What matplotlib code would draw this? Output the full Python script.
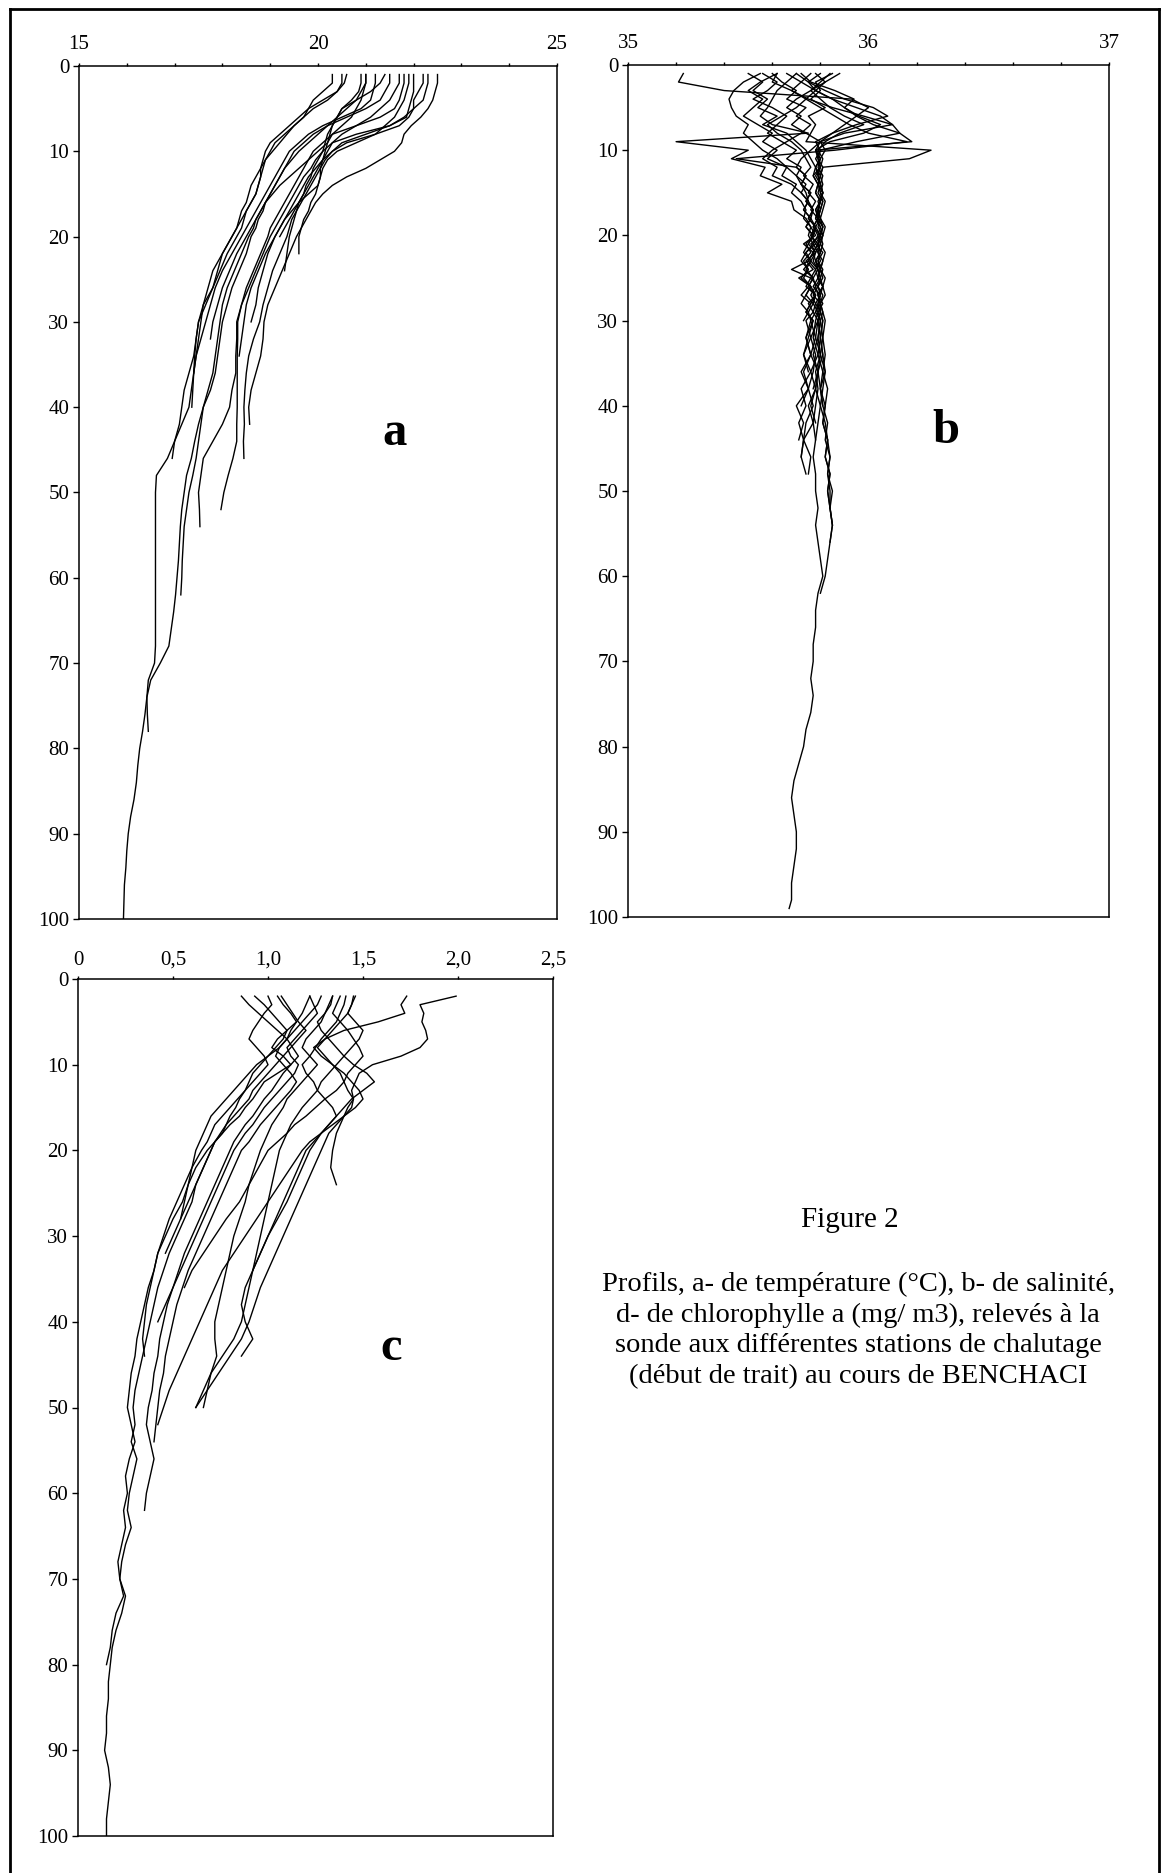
import matplotlib
matplotlib.use("Agg")
import matplotlib.pyplot as plt
from matplotlib.lines import Line2D

# ── depth grids (m) ───────────────────────────────────────────────────────────
depth_a = [1, 2, 3, 4, 5, 6, 7, 8, 9, 10,
           11, 12, 13, 14, 15, 16, 17, 18, 19, 20,
           22, 24, 26, 28, 30, 32, 34, 36, 38, 40,
           42, 44, 46, 48, 50, 52, 54, 56, 58, 60,
           62, 64, 66, 68, 70, 72, 74, 76, 78, 80,
           82, 84, 86, 88, 90, 92, 94, 96, 98, 100]

depth_b = [1, 2, 3, 4, 5, 6, 7, 8, 9, 10,
           11, 12, 13, 14, 15, 16, 17, 18, 19, 20,
           21, 22, 23, 24, 25, 26, 27, 28, 29, 30,
           32, 34, 36, 38, 40, 42, 44, 46, 48, 50,
           52, 54, 56, 58, 60, 62, 64, 66, 68, 70,
           72, 74, 76, 78, 80, 82, 84, 86, 88, 90,
           92, 94, 96, 98, 99]

depth_c = [2, 3, 4, 5, 6, 7, 8, 9, 10, 11,
           12, 13, 14, 15, 16, 17, 18, 19, 20,
           22, 24, 26, 28, 30, 32, 34, 36, 38, 40,
           42, 44, 46, 48, 50, 52, 54, 56, 58, 60,
           62, 64, 66, 68, 70, 72, 74, 76, 78, 80,
           82, 84, 86, 88, 90, 92, 94, 96, 98, 100]

# ── a- temperature (°C), one list per station, read down depth_a ─────────────
a01 = [21.0, 21.0, 20.9, 20.8, 20.6, 20.4, 20.2, 20.0, 19.8, 19.6,
       19.45, 19.3, 19.2, 19.1, 19.0, 18.9, 18.85, 18.75, 18.7, 18.6,
       18.5, 18.35, 18.2, 18.1, 18.0, 17.95, 17.9, 17.85, 17.75, 17.6,
       17.5, 17.42, 17.35, 17.25, 17.2, 17.15, 17.12, 17.1, 17.08, 17.05,
       17.02, 16.98, 16.93, 16.88, 16.7, 16.5, 16.42, 16.38, 16.33, 16.27,
       16.23, 16.2, 16.15, 16.08, 16.03, 16.0, 15.98, 15.95, 15.94, 15.93]
a02 = [20.6, 20.55, 20.4, 20.2, 19.9, 19.7, 19.5, 19.35, 19.2, 19.05,
       18.9, 18.85, 18.8, 18.75, 18.7, 18.6, 18.5, 18.45, 18.4, 18.3,
       18.1, 17.95, 17.8, 17.6, 17.55, 17.5, 17.45, 17.4, 17.35, 17.3,
       17.15, 17.0, 16.85, 16.62, 16.6, 16.6, 16.6, 16.6, 16.6, 16.6,
       16.6, 16.6, 16.6, 16.6, 16.58, 16.45, 16.42, 16.43, 16.45]
a03 = [21.5, 21.5, 21.4, 21.3, 21.0, 20.6, 20.2, 19.9, 19.7, 19.5,
       19.4, 19.3, 19.2, 19.1, 19.0, 18.9, 18.8, 18.7, 18.65, 18.55,
       18.4, 18.25, 18.1, 18.0, 17.95, 17.9, 17.85, 17.8, 17.7, 17.6,
       17.55, 17.5, 17.45, 17.38, 17.3, 17.25, 17.2, 17.18, 17.16, 17.15, 17.13]
a04 = [21.8, 21.8, 21.75, 21.7, 21.6, 21.3, 20.8, 20.3, 20.1, 19.9,
       19.8, 19.7, 19.6, 19.5, 19.4, 19.3, 19.2, 19.1, 19.0, 18.95,
       18.8, 18.65, 18.5, 18.4, 18.3, 18.3, 18.28, 18.28, 18.2, 18.15,
       18.0, 17.8, 17.6, 17.55, 17.5, 17.52, 17.53]
a05 = [22.0, 22.0, 22.0, 21.95, 21.9, 21.85, 21.5, 20.8, 20.3, 20.1,
       19.95, 19.85, 19.7, 19.6, 19.5, 19.4, 19.3, 19.2, 19.1, 19.0,
       18.85, 18.7, 18.55, 18.4, 18.32, 18.32, 18.31, 18.31, 18.31, 18.31,
       18.3, 18.3, 18.22, 18.12, 18.03, 17.97]
a06 = [22.3, 22.3, 22.25, 22.2, 22.0, 21.8, 21.5, 21.0, 20.5, 20.3,
       20.15, 20.05, 19.95, 19.85, 19.75, 19.65, 19.55, 19.45, 19.4, 19.35,
       19.2, 19.05, 18.95, 18.85, 18.78, 18.65, 18.55, 18.5, 18.47, 18.45,
       18.46, 18.44, 18.45]
a07 = [22.5, 22.5, 22.45, 22.4, 22.3, 22.15, 21.95, 21.8, 21.75, 21.6,
       21.3, 21.0, 20.6, 20.3, 20.1, 19.95, 19.85, 19.75, 19.65, 19.55,
       19.4, 19.25, 19.1, 18.95, 18.87, 18.85, 18.8, 18.7, 18.6, 18.55,
       18.57]
a08 = [20.5, 20.5, 20.4, 20.1, 19.8, 19.6, 19.4, 19.2, 19.0, 18.9,
       18.85, 18.8, 18.7, 18.6, 18.55, 18.5, 18.4, 18.35, 18.3, 18.2,
       18.0, 17.9, 17.8, 17.65, 17.5, 17.45, 17.42, 17.4, 17.38, 17.36]
a09 = [21.2, 21.2, 21.15, 21.1, 20.9, 20.5, 20.1, 19.8, 19.6, 19.4,
       19.3, 19.2, 19.1, 19.0, 18.9, 18.8, 18.7, 18.6, 18.5, 18.4,
       18.2, 18.0, 17.85, 17.75, 17.65, 17.55, 17.45, 17.4]
a10 = [20.3, 20.3, 20.1, 19.9, 19.8, 19.7, 19.5, 19.3, 19.1, 19.0,
       18.9, 18.8, 18.8, 18.75, 18.7, 18.6, 18.5, 18.4, 18.3, 18.2,
       18.0, 17.8, 17.7, 17.6, 17.5, 17.45, 17.4, 17.3, 17.2, 17.15,
       17.1, 17.0, 16.95]
a11 = [21.9, 21.9, 21.85, 21.8, 21.7, 21.6, 21.4, 21.2, 20.8, 20.4,
       20.2, 20.1, 20.05, 20.0, 19.95, 19.85, 19.8, 19.7, 19.65, 19.6,
       19.6]
a12 = [20.9, 20.9, 20.85, 20.7, 20.5, 20.4, 20.3, 20.2, 20.15, 20.1,
       20.0, 19.9, 19.85, 19.75, 19.7, 19.6, 19.55, 19.5, 19.45, 19.4,
       19.35, 19.3]
a13 = [21.0, 21.0, 20.95, 20.9, 20.8, 20.7, 20.5, 20.3, 20.2, 20.0,
       19.8, 19.6, 19.4, 19.2, 19.05, 18.9, 18.8, 18.7, 18.6, 18.5,
       18.3, 18.15, 18.0, 17.9, 17.8, 17.75]
a14 = [22.2, 22.2, 22.1, 22.0, 22.0, 21.9, 21.7, 21.2, 20.6, 20.3,
       20.1, 19.95, 19.8, 19.7, 19.6, 19.5, 19.4, 19.3, 19.2, 19.1,
       18.95, 18.85, 18.75, 18.7, 18.6]
a15 = [21.4, 21.3, 21.1, 20.8, 20.5, 20.4, 20.3, 20.25, 20.2, 20.15,
       20.1, 20.05, 20.05, 20.0, 19.8, 19.6, 19.45, 19.3, 19.2, 19.1,
       18.9, 18.75, 18.6, 18.5, 18.45, 18.4, 18.35]
a16 = [21.7, 21.7, 21.6, 21.5, 21.3, 21.1, 20.8, 20.5, 20.3, 20.2,
       20.1, 20.0, 19.9, 19.8, 19.7, 19.6, 19.5, 19.4, 19.3, 19.2]

# ── b- salinity, read down depth_b ───────────────────────────────────────────
b01 = [35.23, 35.21, 35.40, 35.93, 36.00, 35.95, 35.90, 35.85, 35.80, 35.78,
       35.79, 35.80, 35.79, 35.80, 35.81, 35.80, 35.79, 35.80, 35.81, 35.80,
       35.79, 35.80, 35.78, 35.79, 35.80, 35.81, 35.79, 35.80, 35.80, 35.79,
       35.78, 35.80, 35.79, 35.78, 35.80, 35.79, 35.78]
b02 = [35.70, 35.66, 35.62, 35.60, 35.58, 35.55, 35.60, 35.75, 35.20, 35.50,
       35.43, 35.57, 35.55, 35.64, 35.58, 35.68, 35.69, 35.74, 35.76, 35.78,
       35.73, 35.77, 35.75, 35.68, 35.76, 35.74, 35.78, 35.77, 35.79, 35.78,
       35.77, 35.79, 35.76, 35.78, 35.75, 35.77, 35.73, 35.76, 35.75]
b03 = [35.85, 35.78, 35.80, 35.76, 35.82, 35.75, 35.78, 35.76, 35.74, 36.26,
       36.17, 35.81, 35.80, 35.79, 35.80, 35.81, 35.80, 35.79, 35.81, 35.80,
       35.81, 35.80, 35.79, 35.81, 35.80, 35.79, 35.81, 35.80, 35.80, 35.79,
       35.80, 35.81, 35.79, 35.80, 35.81]
b04 = [35.80, 35.75, 35.78, 35.85, 35.95, 36.05, 36.10, 36.13, 36.18, 35.78,
       35.80, 35.78, 35.79, 35.80, 35.81, 35.80, 35.79, 35.80, 35.78, 35.80,
       35.79, 35.77, 35.78, 35.80, 35.79, 35.81, 35.80, 35.79, 35.80, 35.81,
       35.80, 35.81, 35.82, 35.80, 35.81, 35.83, 35.82, 35.84, 35.83, 35.84,
       35.84, 35.85, 35.84]
b05 = [35.55, 35.48, 35.44, 35.42, 35.43, 35.45, 35.50, 35.48, 35.52, 35.56,
       35.62, 35.66, 35.70, 35.72, 35.74, 35.75, 35.77, 35.76, 35.78, 35.77,
       35.75, 35.78, 35.76, 35.79, 35.77, 35.78, 35.76, 35.78, 35.77, 35.79,
       35.76, 35.78, 35.77, 35.75, 35.77, 35.74, 35.73, 35.72]
b06 = [35.70, 35.75, 35.82, 35.90, 36.02, 36.08, 35.95, 35.85, 35.78, 35.80,
       35.78, 35.80, 35.77, 35.79, 35.78, 35.80, 35.78, 35.79, 35.77, 35.79,
       35.80, 35.78, 35.77, 35.79, 35.80, 35.78, 35.79, 35.81, 35.79, 35.80,
       35.79, 35.80, 35.78, 35.79, 35.78, 35.77, 35.78, 35.77, 35.78, 35.78,
       35.79, 35.78, 35.79, 35.80, 35.81, 35.79, 35.78, 35.78, 35.77, 35.77,
       35.76, 35.77, 35.76, 35.74, 35.73, 35.71, 35.69, 35.68, 35.69, 35.70,
       35.70, 35.69, 35.68, 35.68, 35.67]
b07 = [35.62, 35.60, 35.68, 35.75, 35.85, 35.98, 36.10, 35.90, 35.80, 35.76,
       35.72, 35.70, 35.74, 35.72, 35.76, 35.74, 35.77, 35.75, 35.78, 35.76,
       35.78, 35.74, 35.72, 35.75, 35.73, 35.76, 35.74, 35.77, 35.75, 35.76,
       35.74, 35.76, 35.73, 35.75, 35.72]
b08 = [35.88, 35.82, 35.78, 35.85, 35.90, 35.95, 36.02, 36.13, 35.95, 35.80,
       35.79, 35.81, 35.80, 35.81, 35.80, 35.82, 35.81, 35.80, 35.82, 35.81,
       35.80, 35.82, 35.81, 35.80, 35.82, 35.81, 35.82, 35.80, 35.81, 35.82,
       35.81, 35.82, 35.81, 35.83, 35.82, 35.81, 35.83, 35.84, 35.83, 35.85,
       35.84, 35.85]
b09 = [35.50, 35.56, 35.52, 35.58, 35.54, 35.62, 35.56, 35.66, 35.70, 35.74,
       35.76, 35.78, 35.77, 35.79, 35.78, 35.80, 35.79, 35.78, 35.80, 35.79,
       35.77, 35.79, 35.80, 35.78, 35.79, 35.77, 35.80, 35.79, 35.78, 35.80,
       35.79, 35.77, 35.79, 35.78, 35.76, 35.78]
b10 = [35.66, 35.72, 35.68, 35.74, 35.70, 35.64, 35.58, 35.62, 35.68, 35.72,
       35.74, 35.76, 35.73, 35.77, 35.75, 35.78, 35.76, 35.79, 35.77, 35.80,
       35.76, 35.78, 35.74, 35.77, 35.71, 35.76, 35.78, 35.75, 35.77, 35.74,
       35.76, 35.73, 35.75]
b11 = [35.56, 35.62, 35.58, 35.52, 35.60, 35.66, 35.62, 35.58, 35.64, 35.70,
       35.66, 35.72, 35.70, 35.74, 35.72, 35.75, 35.73, 35.76, 35.74, 35.77,
       35.75, 35.73, 35.76, 35.74, 35.77, 35.75, 35.72, 35.76, 35.74, 35.77,
       35.75, 35.73, 35.76, 35.72, 35.74, 35.71, 35.73, 35.72, 35.74]
b12 = [35.72, 35.76, 35.86, 35.94, 35.90, 35.96, 36.05, 35.98, 35.84, 35.78,
       35.80, 35.79, 35.81, 35.80, 35.79, 35.81, 35.80, 35.79, 35.81, 35.80,
       35.78, 35.81, 35.79, 35.80, 35.81, 35.79, 35.80, 35.78, 35.80, 35.81,
       35.80, 35.79, 35.81, 35.80, 35.82, 35.81, 35.83, 35.82, 35.84, 35.83,
       35.84]
b13 = [35.62, 35.55, 35.50, 35.56, 35.52, 35.48, 35.54, 35.60, 35.56, 35.62,
       35.58, 35.66, 35.64, 35.70, 35.68, 35.72, 35.74, 35.73, 35.76, 35.75,
       35.77, 35.74, 35.76, 35.73, 35.77, 35.75, 35.78, 35.76, 35.74, 35.77,
       35.74, 35.76, 35.72, 35.75, 35.70, 35.73, 35.71]
b14 = [35.76, 35.72, 35.78, 35.74, 35.80, 35.86, 35.92, 36.00, 36.16, 35.86,
       35.45, 35.70, 35.74, 35.72, 35.76, 35.74, 35.77, 35.75, 35.78, 35.76,
       35.79, 35.77, 35.75, 35.78, 35.76, 35.79, 35.77, 35.80, 35.78, 35.76,
       35.78, 35.76, 35.79, 35.77]
b15 = [35.84, 35.80, 35.76, 35.70, 35.66, 35.72, 35.68, 35.74, 35.80, 35.82,
       35.80, 35.78, 35.80, 35.79, 35.81, 35.80, 35.78, 35.80, 35.79, 35.81,
       35.80, 35.79, 35.81, 35.80, 35.79, 35.81, 35.79, 35.80, 35.81, 35.80,
       35.81, 35.80, 35.82, 35.81, 35.80, 35.82, 35.83, 35.82, 35.84, 35.83,
       35.84, 35.85, 35.84, 35.83, 35.82, 35.80]
b16 = [35.60, 35.64, 35.70, 35.66, 35.74, 35.70, 35.76, 35.72, 35.66, 35.60,
       35.56, 35.62, 35.60, 35.68, 35.72, 35.75, 35.73, 35.76, 35.74, 35.77,
       35.74, 35.76, 35.73, 35.75, 35.72, 35.76, 35.74, 35.72, 35.75, 35.73]
b17 = [35.78, 35.82, 35.76, 35.80, 35.84, 35.90, 35.98, 35.88, 35.82, 35.79,
       35.81, 35.80, 35.78, 35.80, 35.81, 35.79, 35.80, 35.78, 35.80, 35.81,
       35.79, 35.80, 35.78, 35.80, 35.79]

# ── c- chlorophyll a (mg/m3), read down depth_c ─────────────────────────────
c01 = [1.05, 1.08, 1.12, 1.15, 1.10, 1.05, 1.02, 1.08, 1.12, 1.05,
       0.98, 0.95, 0.92, 0.88, 0.85, 0.80, 0.76, 0.72, 0.70,
       0.66, 0.62, 0.60, 0.56, 0.52, 0.48, 0.45, 0.42, 0.40, 0.38,
       0.36, 0.34, 0.32, 0.30, 0.29, 0.30, 0.28, 0.31, 0.29, 0.27,
       0.26, 0.28, 0.25, 0.23, 0.22, 0.25, 0.23, 0.20, 0.18, 0.17,
       0.16, 0.16, 0.15, 0.15, 0.14, 0.16, 0.17, 0.16, 0.15, 0.15]
c02 = [0.93, 0.98, 1.02, 1.06, 1.10, 1.08, 1.04, 1.00, 0.96, 0.92,
       0.90, 0.88, 0.85, 0.83, 0.80, 0.78, 0.75, 0.72, 0.68,
       0.62, 0.58, 0.55, 0.50, 0.46, 0.42, 0.40, 0.37, 0.35, 0.33,
       0.31, 0.30, 0.28, 0.27, 0.26, 0.28, 0.30, 0.27, 0.25, 0.26,
       0.24, 0.25, 0.23, 0.21, 0.22, 0.24, 0.20, 0.18, 0.17, 0.15]
c03 = [1.22, 1.20, 1.18, 1.15, 1.12, 1.10, 1.13, 1.16, 1.12, 1.08,
       1.05, 1.02, 0.98, 0.95, 0.92, 0.88, 0.85, 0.82, 0.80,
       0.76, 0.72, 0.68, 0.64, 0.60, 0.56, 0.53, 0.50, 0.47, 0.45,
       0.43, 0.42, 0.40, 0.39, 0.37, 0.36, 0.38, 0.40, 0.38, 0.36, 0.35]
c04 = [1.28, 1.26, 1.22, 1.18, 1.14, 1.10, 1.06, 1.04, 1.08, 1.12,
       1.15, 1.12, 1.08, 1.04, 1.00, 0.96, 0.93, 0.90, 0.86,
       0.82, 0.78, 0.74, 0.70, 0.66, 0.62, 0.58, 0.55, 0.52, 0.50,
       0.48, 0.46, 0.45, 0.43, 0.42, 0.41, 0.40]
c05 = [1.34, 1.32, 1.30, 1.28, 1.24, 1.20, 1.18, 1.22, 1.26, 1.22,
       1.18, 1.14, 1.10, 1.08, 1.05, 1.02, 1.00, 0.98, 0.96,
       0.93, 0.90, 0.88, 0.85, 0.82, 0.80, 0.78, 0.76, 0.74, 0.72,
       0.72, 0.73, 0.70, 0.68, 0.66]
c06 = [1.41, 1.40, 1.38, 1.36, 1.32, 1.28, 1.25, 1.22, 1.18, 1.20,
       1.24, 1.26, 1.22, 1.18, 1.15, 1.12, 1.10, 1.08, 1.06,
       1.04, 1.02, 1.00, 0.98, 0.96, 0.94, 0.92, 0.88, 0.86, 0.88,
       0.92, 0.86]
c07 = [1.00, 1.02, 0.98, 0.95, 0.92, 0.90, 0.94, 0.98, 1.00, 0.96,
       0.92, 0.88, 0.84, 0.80, 0.76, 0.72, 0.70, 0.68, 0.65,
       0.60, 0.56, 0.52, 0.48, 0.45, 0.42, 0.40, 0.38, 0.36, 0.35,
       0.34, 0.35]
c08 = [0.86, 0.90, 0.95, 1.00, 1.05, 1.10, 1.06, 1.00, 0.94, 0.90,
       0.86, 0.82, 0.78, 0.74, 0.70, 0.68, 0.66, 0.64, 0.62,
       0.60, 0.58, 0.56, 0.54]
c09 = [1.07, 1.10, 1.13, 1.16, 1.20, 1.16, 1.12, 1.08, 1.04, 1.00,
       0.96, 0.92, 0.90, 0.86, 0.82, 0.78, 0.76, 0.72, 0.70,
       0.66, 0.62, 0.58, 0.54, 0.50, 0.46]
c10 = [1.45, 1.44, 1.42, 1.38, 1.34, 1.30, 1.26, 1.30, 1.34, 1.38,
       1.40, 1.36, 1.30, 1.25, 1.20, 1.14, 1.10, 1.05, 1.00,
       0.95, 0.90, 0.85, 0.78, 0.72, 0.66, 0.60, 0.56]
c11 = [1.38, 1.36, 1.34, 1.38, 1.42, 1.45, 1.48, 1.50, 1.46, 1.42,
       1.40, 1.42, 1.45, 1.44, 1.40, 1.38, 1.36, 1.35, 1.34,
       1.33, 1.36]
c12 = [1.99, 1.80, 1.82, 1.81, 1.83, 1.84, 1.80, 1.70, 1.55, 1.48,
       1.46, 1.44, 1.45, 1.42, 1.40, 1.36, 1.32, 1.30, 1.28,
       1.24, 1.20, 1.16, 1.12, 1.08, 1.04, 1.00, 0.96, 0.93, 0.90,
       0.86, 0.80, 0.74, 0.68, 0.62]
c13 = [1.73, 1.70, 1.72, 1.58, 1.40, 1.30, 1.24, 1.28, 1.34, 1.40,
       1.44, 1.48, 1.50, 1.46, 1.40, 1.34, 1.28, 1.22, 1.18,
       1.12, 1.06, 1.00, 0.94, 0.88, 0.82, 0.76, 0.72, 0.68, 0.64,
       0.60, 0.56, 0.52, 0.48, 0.45, 0.42]
c14 = [1.46, 1.44, 1.42, 1.46, 1.50, 1.48, 1.44, 1.40, 1.36, 1.32,
       1.28, 1.26, 1.30, 1.34, 1.36, 1.32, 1.28, 1.24, 1.20,
       1.16, 1.12, 1.08, 1.04, 1.00, 0.96, 0.92, 0.90, 0.88, 0.86,
       0.82, 0.76, 0.70, 0.66, 0.62]
c15 = [1.22, 1.24, 1.26, 1.22, 1.18, 1.14, 1.10, 1.12, 1.16, 1.14,
       1.10, 1.06, 1.02, 0.98, 0.95, 0.92, 0.88, 0.85, 0.82,
       0.78, 0.74, 0.70, 0.66, 0.62, 0.58, 0.54, 0.50, 0.46, 0.42]
c16 = [1.34, 1.33, 1.30, 1.26, 1.28, 1.32, 1.36, 1.40, 1.45, 1.52,
       1.56, 1.50, 1.44, 1.40, 1.36, 1.32, 1.28, 1.25, 1.22,
       1.18, 1.14, 1.10, 1.05, 1.00, 0.96, 0.92]

temp_profiles = [a01, a02, a03, a04, a05, a06, a07, a08,
                 a09, a10, a11, a12, a13, a14, a15, a16]
sal_profiles = [b01, b02, b03, b04, b05, b06, b07, b08, b09,
                b10, b11, b12, b13, b14, b15, b16, b17]
chl_profiles = [c01, c02, c03, c04, c05, c06, c07, c08,
                c09, c10, c11, c12, c13, c14, c15, c16]

depth_ticks = [0, 10, 20, 30, 40, 50, 60, 70, 80, 90, 100]
temp_ticks = [15, 16, 17, 18, 19, 20, 21, 22, 23, 24, 25]
temp_labels = ["15", "", "", "", "", "20", "", "", "", "", "25"]
sal_ticks = [35.0, 35.2, 35.4, 35.6, 35.8, 36.0, 36.2, 36.4, 36.6, 36.8, 37.0]
sal_labels = ["35", "", "", "", "", "36", "", "", "", "", "37"]
chl_ticks = [0, 0.5, 1.0, 1.5, 2.0, 2.5]
chl_labels = ["0", "0,5", "1,0", "1,5", "2,0", "2,5"]

caption_title = "Figure 2"
caption_lines = ["Profils, a- de température (°C), b- de salinité,",
                 "d- de chlorophylle a (mg/ m3), relevés à la",
                 "sonde aux différentes stations de chalutage",
                 "(début de trait) au cours de BENCHACI"]

# ── figure ───────────────────────────────────────────────────────────────────
W, H = 1163, 1873
plt.rcParams["font.family"] = ["Liberation Serif", "DejaVu Serif"]

fig = plt.figure(figsize=(W / 100, H / 100), dpi=100)
fig.patch.set_facecolor("white")


def px_axes(left, top, right, bottom):
    """Axes placed by pixel box (origin top-left)."""
    return fig.add_axes([left / W, 1 - bottom / H, (right - left) / W, (bottom - top) / H])


def profile_panel(ax, profiles, depths, xlim, ticks, labels, letter, letter_x, xpad=6):
    for vals in profiles:
        ax.plot(vals, depths[:len(vals)], color="black", lw=1.0,
                solid_joinstyle="round")
    ax.set_xlim(*xlim)
    ax.set_ylim(100, 0)
    ax.set_xticks(ticks)
    ax.set_xticklabels(labels)
    ax.set_yticks(depth_ticks)
    ax.xaxis.tick_top()
    ax.tick_params(axis="x", top=True, bottom=False, labeltop=True, labelbottom=False,
                   direction="out", length=2.5, width=1.0, pad=xpad, labelsize=15)
    ax.tick_params(axis="y", left=True, right=False, direction="out",
                   length=4, width=1.0, pad=3, labelsize=15)
    for sp in ax.spines.values():
        sp.set_linewidth(1.1)
    ax.text(letter_x, 43, letter, fontsize=35, fontweight="bold",
            ha="center", va="center")


ax_a = px_axes(79, 66, 557, 919)
profile_panel(ax_a, temp_profiles, depth_a, (15, 25), temp_ticks, temp_labels, "a", 21.6)

ax_b = px_axes(628, 65, 1109, 917)
profile_panel(ax_b, sal_profiles, depth_b, (35, 37), sal_ticks, sal_labels, "b", 36.32)

ax_c = px_axes(78, 979, 553, 1836)
profile_panel(ax_c, chl_profiles, depth_c, (0, 2.5), chl_ticks, chl_labels, "c", 1.65,
              xpad=4)

# caption
fig.text(850 / W, 1 - 1220 / H, caption_title, ha="center", va="center", fontsize=21)
for i, line in enumerate(caption_lines):
    fig.text(858 / W, 1 - (1284 + 31 * i) / H, line, ha="center", va="center",
             fontsize=20.5)

# page frame (left, top, right edges of the scanned box)
frame = dict(color="black", lw=2.0, transform=fig.transFigure)
fig.add_artist(Line2D([9.5 / W, 9.5 / W], [0, 1 - 9 / H], **frame))
fig.add_artist(Line2D([9.5 / W, 1159 / W], [1 - 9 / H, 1 - 9 / H], **frame))
fig.add_artist(Line2D([1159 / W, 1159 / W], [1 - 9 / H, 0], **frame))

fig.savefig("out.png", dpi=100, facecolor="white")
